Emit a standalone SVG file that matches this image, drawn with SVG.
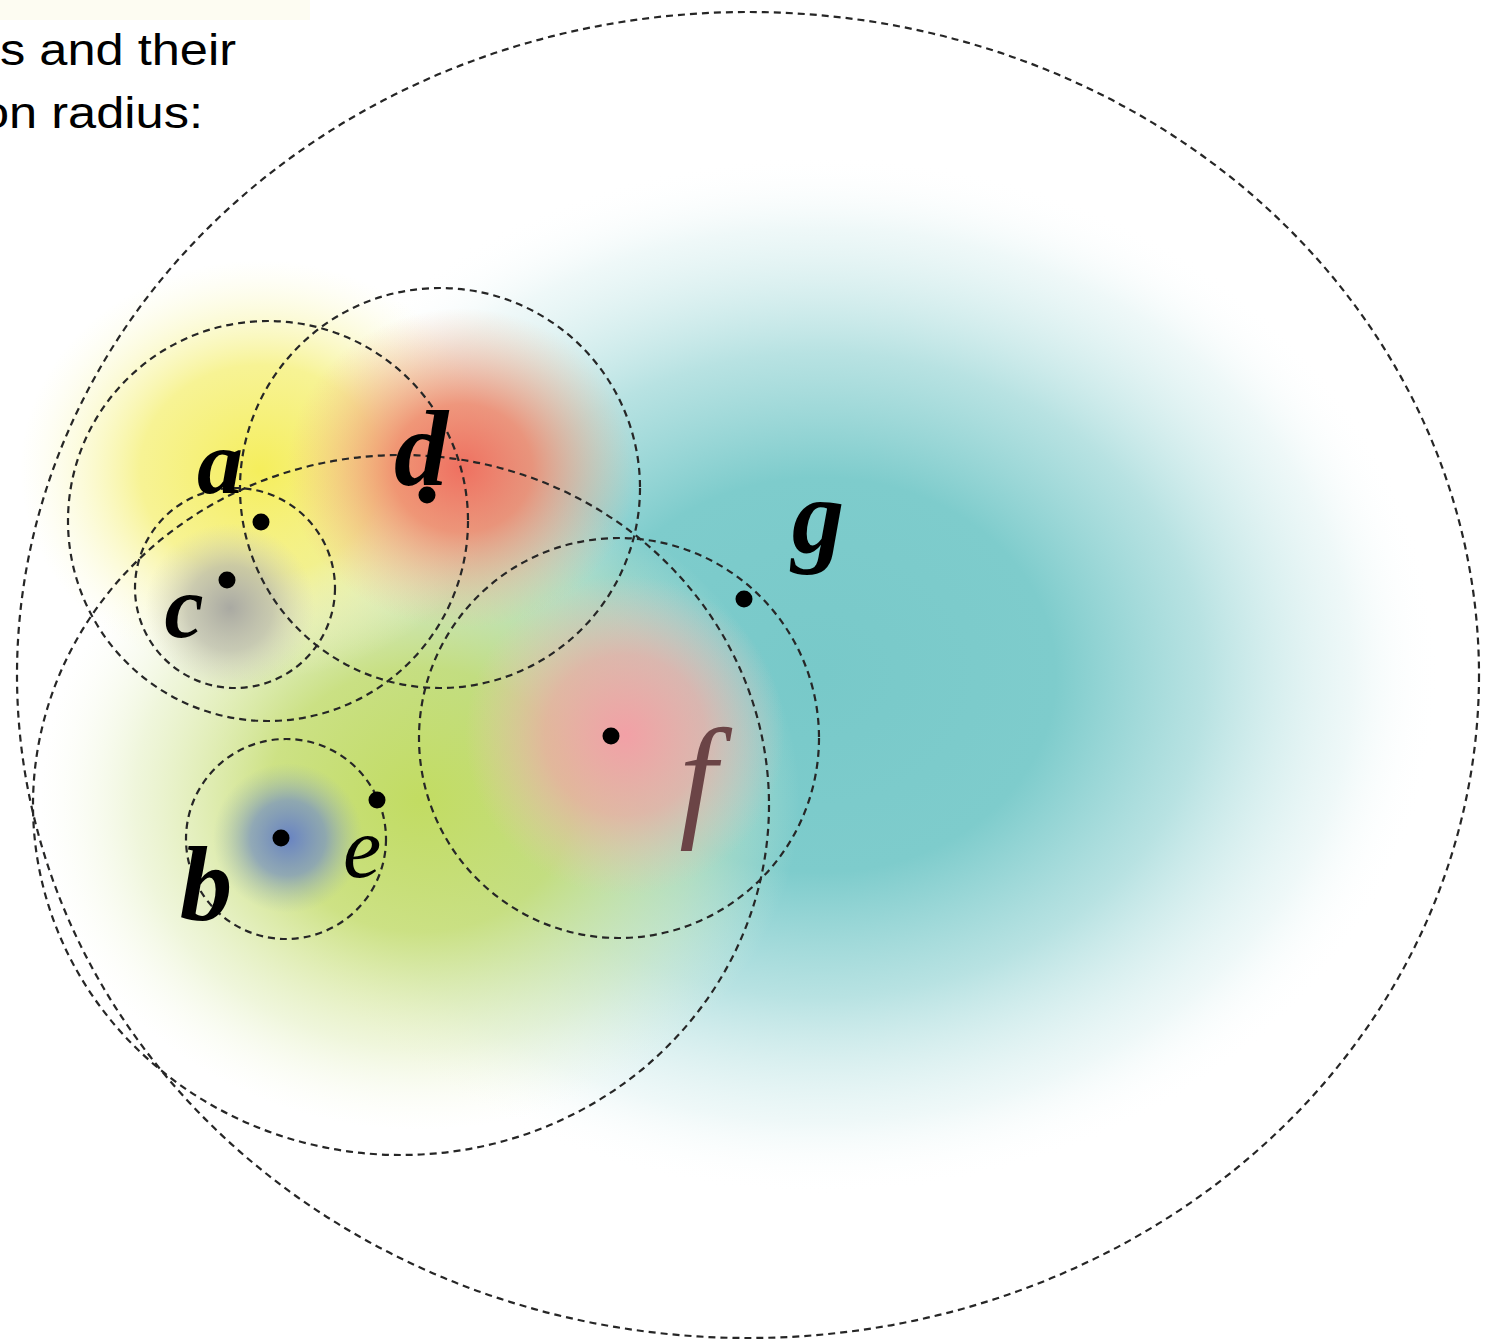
<svg xmlns="http://www.w3.org/2000/svg" width="1501" height="1341" viewBox="0 0 1501 1341">
  <defs>
    <radialGradient id="gTeal">
      <stop offset="0" stop-color="#78c9c9" stop-opacity="1"/>
      <stop offset="0.38" stop-color="#7ecccc" stop-opacity="1"/>
      <stop offset="0.62" stop-color="#a6dbdb" stop-opacity="0.8"/>
      <stop offset="0.86" stop-color="#d6eeee" stop-opacity="0.4"/>
      <stop offset="1" stop-color="#ffffff" stop-opacity="0"/>
    </radialGradient>
    <radialGradient id="gGreen">
      <stop offset="0" stop-color="#c2dc62" stop-opacity="1"/>
      <stop offset="0.4" stop-color="#c6dd70" stop-opacity="0.85"/>
      <stop offset="0.75" stop-color="#dcebb0" stop-opacity="0.45"/>
      <stop offset="1" stop-color="#f2f8e0" stop-opacity="0"/>
    </radialGradient>
    <radialGradient id="gYellow">
      <stop offset="0" stop-color="#f5ee5c" stop-opacity="1"/>
      <stop offset="0.5" stop-color="#f5f07a" stop-opacity="0.8"/>
      <stop offset="1" stop-color="#fafad0" stop-opacity="0"/>
    </radialGradient>
    <radialGradient id="gRed">
      <stop offset="0" stop-color="#ef7060" stop-opacity="1"/>
      <stop offset="0.4" stop-color="#f0866a" stop-opacity="0.85"/>
      <stop offset="1" stop-color="#f4b890" stop-opacity="0"/>
    </radialGradient>
    <radialGradient id="gPink">
      <stop offset="0" stop-color="#f2a0a6" stop-opacity="1"/>
      <stop offset="0.5" stop-color="#f0a8a8" stop-opacity="0.7"/>
      <stop offset="1" stop-color="#f0c0c0" stop-opacity="0"/>
    </radialGradient>
    <radialGradient id="gGrey">
      <stop offset="0" stop-color="#a9a9a2" stop-opacity="1"/>
      <stop offset="0.5" stop-color="#b8b8ac" stop-opacity="0.7"/>
      <stop offset="1" stop-color="#d0d0c0" stop-opacity="0"/>
    </radialGradient>
    <radialGradient id="gBlue">
      <stop offset="0" stop-color="#6883c2" stop-opacity="1"/>
      <stop offset="0.5" stop-color="#7b95c0" stop-opacity="0.75"/>
      <stop offset="1" stop-color="#a0b8b0" stop-opacity="0"/>
    </radialGradient>
  </defs>
  <style>
    .ring { fill: none; stroke: #262626; stroke-width: 2.2; stroke-dasharray: 7 5; }
    .dot { fill: #000000; }
    .lbl { font-family: "Liberation Serif", "DejaVu Serif", serif; font-style: italic; text-anchor: middle; fill: #000000; }
    .b { font-weight: bold; }
    .cap { font-family: "Liberation Sans", Arial, sans-serif; font-size: 44px; fill: #000000; }
  </style>
  <rect width="1501" height="1341" fill="#ffffff"/>
  <rect x="0" y="0" width="310" height="20" fill="#fdfcf2"/>

  <g id="background">
    <ellipse cx="820" cy="675" rx="620" ry="520" fill="url(#gTeal)"/>
    <ellipse cx="420" cy="800" rx="380" ry="330" fill="url(#gGreen)"/>
    <ellipse cx="260" cy="470" rx="240" ry="210" fill="url(#gYellow)"/>
    <ellipse cx="462" cy="468" rx="175" ry="160" fill="url(#gRed)"/>
    <ellipse cx="625" cy="735" rx="160" ry="160" fill="url(#gPink)"/>
    <ellipse cx="230" cy="608" rx="85" ry="85" fill="url(#gGrey)"/>
    <ellipse cx="288" cy="838" rx="75" ry="75" fill="url(#gBlue)"/>
  </g>

  <g id="caption">
    <text class="cap" x="0" y="65" textLength="236" lengthAdjust="spacingAndGlyphs">s and their</text>
    <text class="cap" x="-19" y="128" textLength="222" lengthAdjust="spacingAndGlyphs">on radius:</text>
  </g>

  <g id="connectors">
    <ellipse class="ring" cx="748" cy="675" rx="731" ry="663"/>
    <ellipse class="ring" cx="401" cy="805" rx="368" ry="350"/>
    <circle class="ring" cx="268" cy="521" r="200"/>
    <circle class="ring" cx="440" cy="488" r="200"/>
    <circle class="ring" cx="235" cy="588" r="100"/>
    <circle class="ring" cx="286" cy="839" r="100"/>
    <circle class="ring" cx="619" cy="738" r="200"/>
  </g>

  <g id="node-a">
    <circle class="dot" cx="261" cy="522" r="8.5"/>
    <text class="lbl b" x="220" y="493" font-size="92">a</text>
  </g>
  <g id="node-b">
    <circle class="dot" cx="281" cy="838" r="8.5"/>
    <text class="lbl b" x="206" y="920" font-size="105">b</text>
  </g>
  <g id="node-c">
    <circle class="dot" cx="227" cy="580" r="8.5"/>
    <text class="lbl b" x="184" y="637" font-size="88">c</text>
  </g>
  <g id="node-d">
    <circle class="dot" cx="427" cy="495" r="8.5"/>
    <text class="lbl b" x="421" y="485" font-size="108">d</text>
  </g>
  <g id="node-e">
    <circle class="dot" cx="377" cy="800" r="8.5"/>
    <text class="lbl" x="362" y="877" font-size="86">e</text>
  </g>
  <g id="node-f">
    <circle class="dot" cx="611" cy="736" r="8.5"/>
    <text class="lbl" x="698" y="822" font-size="135" style="fill:#6b4446">f</text>
  </g>
  <g id="node-g">
    <circle class="dot" cx="744" cy="599" r="8.5"/>
    <text class="lbl b" x="818" y="552" font-size="105">g</text>
  </g>
</svg>
